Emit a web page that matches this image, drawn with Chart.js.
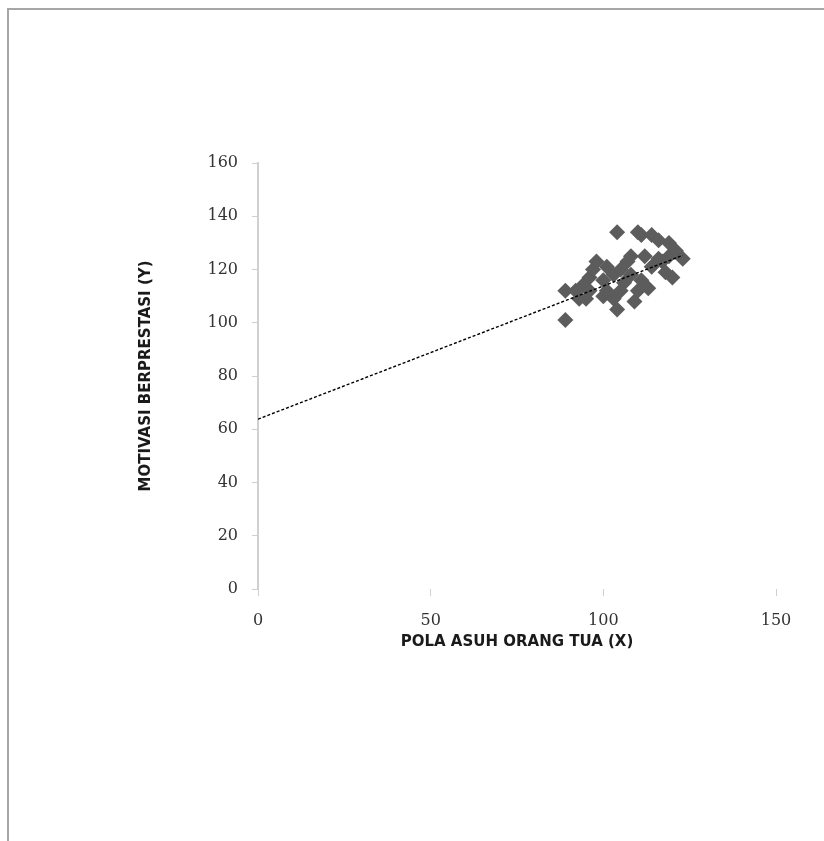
<!DOCTYPE html>
<html>
<head>
<meta charset="utf-8">
<script src="https://cdn.jsdelivr.net/npm/chart.js@4"></script>
<style>
  html, body { margin: 0; padding: 0; background: #fff; overflow: hidden; }
  #wrap { position: relative; width: 824px; height: 841px; }
  #frame { position: absolute; left: 7px; top: 8px; width: 900px; height: 900px; border: 2px solid #a6a6a6; box-sizing: border-box; }
  canvas { position: absolute; left: 0; top: 0; }
</style>
</head>
<body>
<div id="wrap">
  <div id="frame"></div>
  <canvas id="chart" width="824" height="841"></canvas>
</div>
<script>
// Pola asuh (X) vs motivasi berprestasi (Y)
const xValues = [89, 89, 104, 110, 111, 114, 116, 119, 108, 112, 116, 119, 123, 120, 118,
                 111, 110, 113, 109, 98, 101, 96, 94, 92, 96, 100, 103, 105, 100, 103,
                 104, 106, 105, 97, 93, 95, 101, 107, 114, 117, 121, 108];
const yValues = [101, 112, 134, 134, 133, 133, 131, 130, 125, 125, 124, 125, 124, 117, 119,
                 116, 112, 113, 108, 123, 121, 117, 114, 112, 112, 116, 118, 120, 110, 109,
                 105, 115, 112, 120, 109, 109, 112, 123, 121, 123, 127, 118];

// linear trend line (intercept, slope) as shown in the chart
const trendIntercept = 63.8;
const trendSlope = 0.5;

const xTicks = [0, 50, 100, 150];
const yTicks = [0, 20, 40, 60, 80, 100, 120, 140, 160];

const points = xValues.map((x, i) => ({ x: x, y: yValues[i] }));
const xMax = Math.max(...xValues);
const trend = [
    { x: 0, y: trendIntercept },
    { x: xMax, y: trendIntercept + trendSlope * xMax }
];

const tickFont = { family: 'DejaVu Serif', size: 16 };
const titleFont = { family: 'DejaVu Sans', size: 15, weight: 'bold' };

const ctx = document.getElementById('chart').getContext('2d');
new Chart(ctx, {
    type: 'scatter',
    data: {
        datasets: [{
            label: 'Y',
            data: points,
            pointStyle: 'rectRot',
            pointRadius: 8,
            pointHoverRadius: 8,
            backgroundColor: '#5c5c5c',
            borderColor: '#5c5c5c',
            borderWidth: 0,
            order: 2
        }, {
            label: 'Linear (Y)',
            type: 'line',
            data: trend,
            borderColor: '#000',
            borderWidth: 1.4,
            borderDash: [3, 2],
            pointRadius: 0,
            fill: false,
            order: 1
        }]
    },
    options: {
        responsive: false,
        animation: false,
        layout: { padding: { left: 130, top: 163, right: 48, bottom: 190 } },
        plugins: {
            legend: { display: false },
            tooltip: { enabled: false }
        },
        scales: {
            x: {
                type: 'linear',
                min: 0,
                max: 150,
                afterBuildTicks: (axis) => { axis.ticks = xTicks.map(v => ({ value: v })); },
                afterFit: (axis) => { axis.height = 62; },
                border: { display: false },
                grid: { drawOnChartArea: false, drawTicks: true, tickLength: 7, color: '#d0d0d0' },
                ticks: { font: tickFont, color: '#333', padding: 15, maxRotation: 0 },
                title: { display: true, text: 'POLA ASUH ORANG TUA (X)', font: titleFont, color: '#1a1a1a', padding: { top: 0, bottom: 0 } }
            },
            y: {
                type: 'linear',
                min: 0,
                max: 160,
                afterBuildTicks: (axis) => { axis.ticks = yTicks.map(v => ({ value: v })); },
                afterFit: (axis) => { axis.width = 128; },
                border: { display: true, color: '#d0d0d0', width: 2 },
                grid: { drawOnChartArea: false, drawTicks: true, tickLength: 6, color: '#d0d0d0' },
                ticks: { font: tickFont, color: '#333', padding: 14 },
                title: { display: true, text: 'MOTIVASI BERPRESTASI (Y)', font: titleFont, color: '#1a1a1a', padding: { top: 7, bottom: 0 } }
            }
        }
    }
});
</script>
</body>
</html>
